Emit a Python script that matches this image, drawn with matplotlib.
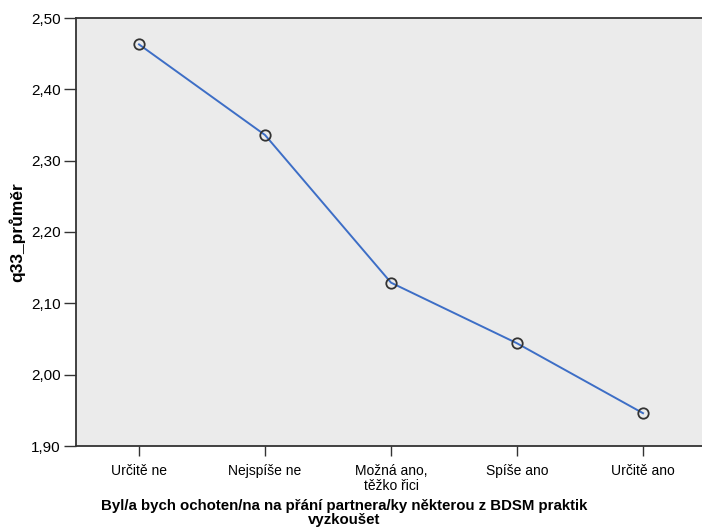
import numpy as np
import matplotlib.pyplot as plt

plt.rcParams['font.family'] = ['Liberation Sans', 'DejaVu Sans']

categories = ['Určitě ne', 'Nejspíše ne', 'Možná ano,\ntěžko řici', 'Spíše ano', 'Určitě ano']
means = [2.463, 2.336, 2.129, 2.044, 1.946]
yticks = [1.90, 2.00, 2.10, 2.20, 2.30, 2.40, 2.50]

W, H = 702, 532
fig = plt.figure(figsize=(W / 100, H / 100), dpi=100)
# axes box in pixels: left 76, right 706, top 18, bottom 446
ax = fig.add_axes([76 / W, 1 - 446 / H, 630 / W, 428 / H])
ax.set_facecolor('#ebebeb')

x = np.arange(len(categories))
ax.plot(x, means, color='#3d6ec6', lw=1.4, zorder=2)
ax.plot(x, means, 'o', ms=7.5, mfc='none', mec='#333333', mew=1.3, zorder=3)

ax.set_xlim(-0.5, len(categories) - 0.5)
ax.set_ylim(1.90, 2.50)
ax.set_yticks(yticks)
ax.set_yticklabels([f'{v:.2f}'.replace('.', ',') for v in yticks])
ax.set_xticks(x)
ax.set_xticklabels(categories, linespacing=1.05)

for s in ['left', 'top', 'bottom']:
    ax.spines[s].set_color('#333333')
    ax.spines[s].set_linewidth(1.3)
ax.spines['right'].set_visible(False)

ax.tick_params(axis='y', length=9, width=1, color='#333333', labelsize=11, pad=2)
ax.tick_params(axis='x', length=7, width=1, color='#333333', labelsize=10, pad=6)

ax.set_ylabel('q33_průměr', fontsize=12.5, fontweight='bold', labelpad=4)
fig.text(344 / W, 1 - 513 / H, 'Byl/a bych ochoten/na na přání partnera/ky některou z BDSM praktik\nvyzkoušet',
         ha='center', va='center', fontsize=10.8, fontweight='bold', linespacing=1.0)

fig.savefig('out.png', dpi=100)
